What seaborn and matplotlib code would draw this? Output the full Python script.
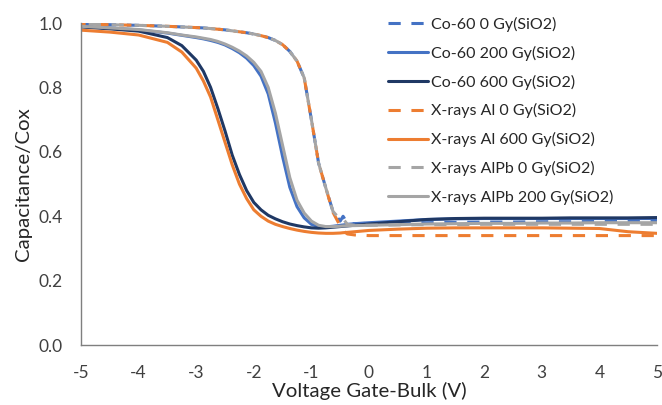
import numpy as np
import pandas as pd
import matplotlib
matplotlib.use("Agg")
import matplotlib.pyplot as plt
import seaborn as sns

# ---------------- data ----------------
voltage = [-5, -4.5, -4, -3.5, -3.25, -3.0, -2.875, -2.75, -2.625, -2.5,
           -2.375, -2.25, -2.125, -2.0, -1.875, -1.75, -1.625, -1.5, -1.375, -1.25,
           -1.125, -1.0, -0.875, -0.75, -0.625, -0.5, -0.45, -0.375, -0.25, 0,
           0.5, 1, 1.5, 2, 2.5, 3, 3.5, 4, 4.5, 5]

co60_0 = [0.997, 0.995, 0.993, 0.990, 0.988, 0.986, 0.985, 0.983, 0.981, 0.979,
          0.976, 0.973, 0.970, 0.966, 0.961, 0.955, 0.946, 0.933, 0.912, 0.882,
          0.830, 0.700, 0.565, 0.488, 0.415, 0.385, 0.400, 0.378, 0.377, 0.378,
          0.379, 0.380, 0.381, 0.382, 0.382, 0.383, 0.383, 0.384, 0.384, 0.385]

co60_200 = [0.990, 0.985, 0.979, 0.969, 0.962, 0.955, 0.951, 0.946, 0.940, 0.932,
            0.921, 0.908, 0.891, 0.868, 0.835, 0.780, 0.690, 0.585, 0.490, 0.430,
            0.395, 0.375, 0.368, 0.367, 0.369, 0.372, 0.373, 0.375, 0.377, 0.380,
            0.385, 0.390, 0.392, 0.393, 0.393, 0.393, 0.393, 0.393, 0.393, 0.393]

co60_600 = [0.988, 0.982, 0.975, 0.955, 0.930, 0.885, 0.850, 0.800, 0.735, 0.665,
            0.590, 0.530, 0.480, 0.443, 0.420, 0.403, 0.392, 0.383, 0.376, 0.371,
            0.367, 0.364, 0.363, 0.364, 0.366, 0.368, 0.369, 0.370, 0.372, 0.376,
            0.383, 0.390, 0.393, 0.394, 0.394, 0.394, 0.395, 0.395, 0.395, 0.396]

xal_0 = [0.997, 0.995, 0.993, 0.990, 0.988, 0.986, 0.985, 0.983, 0.981, 0.979,
         0.976, 0.973, 0.970, 0.966, 0.961, 0.955, 0.946, 0.933, 0.912, 0.882,
         0.830, 0.700, 0.565, 0.488, 0.412, 0.370, 0.355, 0.345, 0.342, 0.340,
         0.340, 0.340, 0.340, 0.340, 0.340, 0.340, 0.340, 0.340, 0.340, 0.340]

xal_600 = [0.978, 0.972, 0.963, 0.940, 0.910, 0.860, 0.820, 0.770, 0.700, 0.630,
           0.560, 0.500, 0.455, 0.420, 0.400, 0.385, 0.375, 0.368, 0.362, 0.357,
           0.353, 0.350, 0.348, 0.347, 0.347, 0.348, 0.349, 0.350, 0.352, 0.356,
           0.360, 0.363, 0.364, 0.364, 0.364, 0.364, 0.363, 0.362, 0.352, 0.347]

xalpb_0 = [0.997, 0.995, 0.993, 0.990, 0.988, 0.986, 0.985, 0.983, 0.981, 0.979,
           0.976, 0.973, 0.970, 0.966, 0.961, 0.955, 0.946, 0.933, 0.912, 0.882,
           0.830, 0.700, 0.565, 0.488, 0.415, 0.390, 0.392, 0.375, 0.372, 0.372,
           0.373, 0.374, 0.374, 0.375, 0.375, 0.375, 0.375, 0.375, 0.375, 0.375]

xalpb_200 = [0.990, 0.985, 0.980, 0.970, 0.963, 0.957, 0.953, 0.949, 0.943, 0.935,
             0.925, 0.913, 0.898, 0.878, 0.850, 0.800, 0.720, 0.620, 0.520, 0.450,
             0.410, 0.385, 0.372, 0.368, 0.368, 0.369, 0.370, 0.371, 0.371, 0.372,
             0.374, 0.376, 0.377, 0.378, 0.378, 0.379, 0.379, 0.380, 0.380, 0.380]

labels = ["Co-60 0 Gy(SiO2)", "Co-60 200 Gy(SiO2)", "Co-60 600 Gy(SiO2)",
          "X-rays Al 0 Gy(SiO2)", "X-rays Al 600 Gy(SiO2)",
          "X-rays AlPb 0 Gy(SiO2)", "X-rays AlPb 200 Gy(SiO2)"]
series = [co60_0, co60_200, co60_600, xal_0, xal_600, xalpb_0, xalpb_200]

x_ticks = [-5, -4, -3, -2, -1, 0, 1, 2, 3, 4, 5]
y_ticks = [0.0, 0.2, 0.4, 0.6, 0.8, 1.0]

# ---------------- styling ----------------
colors = ["#4472C4", "#4472C4", "#1F3864", "#ED7D31", "#ED7D31", "#A5A5A5", "#A5A5A5"]
dash = (4, 3.5)
styles = [(0.0, dash), "-", "-", (2.5, dash), "-", (5.0, dash), "-"]

sns.set_theme(style="white")
plt.rcParams["font.family"] = ["Lato", "DejaVu Sans"]

fig = plt.figure(figsize=(6.62, 4.05), dpi=100)
ax = fig.add_axes([0.1224, 0.148, 0.870, 0.795])

for lab, vals, c, ls in zip(labels, series, colors, styles):
    df = pd.DataFrame({"V": voltage, "C": vals})
    sns.lineplot(data=df, x="V", y="C", ax=ax, color=c, linestyle=ls,
                 linewidth=2.2, label=lab, sort=False, estimator=None)

ax.set_xlim(-5, 5)
ax.set_ylim(0, 1.0)
ax.set_xticks(x_ticks)
ax.set_yticks(y_ticks)
ax.set_xticklabels([str(t) for t in x_ticks])
ax.set_yticklabels([f"{t:.1f}" for t in y_ticks])

for s in ["top", "right"]:
    ax.spines[s].set_visible(False)
for s in ["left", "bottom"]:
    ax.spines[s].set_color("#7F7F7F")
    ax.spines[s].set_linewidth(1.0)

ax.tick_params(axis="both", direction="in", length=5, width=1.0,
               color="#7F7F7F", labelcolor="#404040", labelsize=12.5)
ax.tick_params(axis="x", pad=14)
ax.tick_params(axis="y", pad=13.5)

ax.set_xlabel("Voltage Gate-Bulk (V)", fontsize=14.7, color="#262626", labelpad=1)
ax.set_ylabel("Capacitance/Cox", fontsize=14.7, color="#262626", labelpad=4)

leg = ax.legend(loc="upper left", bbox_to_anchor=(388 / 662, 1 - 17 / 405),
                bbox_transform=fig.transFigure, frameon=False, fontsize=11.5,
                handlelength=2.5, handletextpad=0.2, labelspacing=0.86,
                borderaxespad=0, borderpad=0)
for ln, ls in zip(leg.get_lines(), styles):
    if ls != "-":
        ln.set_linestyle((0.0, dash))
for t in leg.get_texts():
    t.set_color("#262626")

fig.savefig("out.png", dpi=100)
